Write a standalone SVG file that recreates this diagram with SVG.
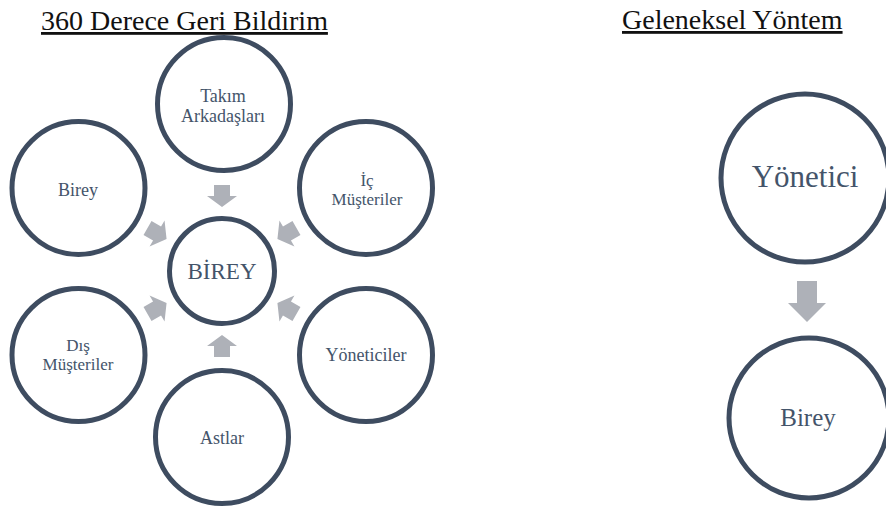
<svg xmlns="http://www.w3.org/2000/svg" width="886" height="506" viewBox="0 0 886 506">
<defs>
<style>
.ring{fill:#fff;stroke:#3E4C60;stroke-width:5}
.lbl{font-family:"Liberation Serif","Times New Roman",serif;fill:#44546A;text-anchor:middle}
.ttl{font-family:"Liberation Serif","Times New Roman",serif;fill:#111;font-size:28px;text-decoration:underline}
.arr{fill:#AEB1B8}
</style>
<path id="ar" d="M-8,-86 H8 V-75 H15 L0,-64 L-15,-75 H-8 Z"/>
</defs>
<rect width="886" height="506" fill="#fff"/>
<text class="ttl" x="41" y="30">360 Derece Geri Bildirim</text>
<text class="ttl" x="622" y="29">Geleneksel Yöntem</text>

<g id="connectors">
<g transform="translate(222,271)">
<use href="#ar" class="arr"/>
<use href="#ar" class="arr" transform="rotate(60)"/>
<use href="#ar" class="arr" transform="rotate(120)"/>
<use href="#ar" class="arr" transform="rotate(180)"/>
<use href="#ar" class="arr" transform="rotate(240)"/>
<use href="#ar" class="arr" transform="rotate(300)"/>
</g>
<path class="arr" d="M797,281 H817 V303 H826 L807,322 L788,303 H797 Z"/>
</g>

<g id="center"><circle class="ring" cx="222" cy="271" r="52.5" stroke-width="4.5"/><text class="lbl" x="222" y="279" font-size="23">BİREY</text></g>
<g id="takim"><circle class="ring" cx="224" cy="104" r="66.5"/><text class="lbl" x="223" y="102" font-size="18">Takım</text><text class="lbl" x="223" y="122" font-size="18">Arkadaşları</text></g>
<g id="ic"><circle class="ring" cx="366" cy="188" r="66.5"/><text class="lbl" x="367" y="186" font-size="17">İç</text><text class="lbl" x="367" y="205" font-size="17">Müşteriler</text></g>
<g id="yoneticiler"><circle class="ring" cx="366" cy="355" r="66.5"/><text class="lbl" x="366" y="361" font-size="18">Yöneticiler</text></g>
<g id="astlar"><circle class="ring" cx="222" cy="437" r="66.5"/><text class="lbl" x="222" y="444" font-size="18">Astlar</text></g>
<g id="dis"><circle class="ring" cx="78.5" cy="355" r="66.5"/><text class="lbl" x="78" y="351" font-size="17">Dış</text><text class="lbl" x="78" y="370" font-size="17">Müşteriler</text></g>
<g id="birey-left"><circle class="ring" cx="78.5" cy="188" r="66.5"/><text class="lbl" x="78" y="196" font-size="18">Birey</text></g>

<g id="yonetici"><circle class="ring" cx="805" cy="178" r="84"/><text class="lbl" x="805" y="187" font-size="31">Yönetici</text></g>
<g id="birey-right"><circle class="ring" cx="809" cy="418" r="80"/><text class="lbl" x="808" y="426" font-size="25">Birey</text></g>
</svg>
